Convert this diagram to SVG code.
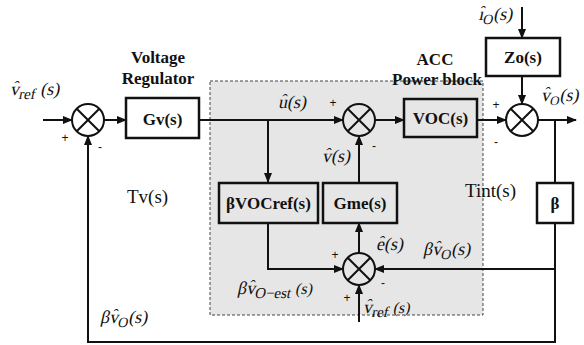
<svg xmlns="http://www.w3.org/2000/svg" width="584" height="345" viewBox="0 0 584 345">
<defs>
<marker id="arr" markerWidth="10" markerHeight="8" refX="9" refY="4" orient="auto" markerUnits="userSpaceOnUse">
<path d="M0,0 L10,4 L0,8 z" fill="#111"/>
</marker>
<style>
.ln{stroke:#111;stroke-width:2;fill:none}
.bx{stroke:#111;stroke-width:2.5;fill:none}
.bxw{stroke:#111;stroke-width:2.5;fill:#fff}
.bt{font-family:"Liberation Serif",serif;font-weight:bold;font-size:17px;fill:#111;text-anchor:middle}
.lt{font-family:"Liberation Serif",serif;font-size:19px;fill:#111}
.it{font-family:"Liberation Serif",serif;font-size:18px;fill:#111}
.h{font-size:16px}
.sg{font-family:"Liberation Sans",sans-serif;font-size:12px;fill:#111;text-anchor:middle}
</style>
</defs>
<rect width="584" height="345" fill="#fff"/>
<rect x="210" y="81" width="273" height="234" fill="#e6e6e6" stroke="#444" stroke-width="1" stroke-dasharray="3,2"/>

<g id="connectors">
<line class="ln" x1="43" y1="120" x2="72" y2="120" marker-end="url(#arr)"/>
<line class="ln" x1="104" y1="120" x2="126" y2="120" marker-end="url(#arr)"/>
<line class="ln" x1="199" y1="120" x2="343" y2="120" marker-end="url(#arr)"/>
<line class="ln" x1="268" y1="120" x2="268" y2="182" marker-end="url(#arr)"/>
<line class="ln" x1="375" y1="120" x2="404" y2="120" marker-end="url(#arr)"/>
<line class="ln" x1="477" y1="120" x2="506" y2="120" marker-end="url(#arr)"/>
<line class="ln" x1="538" y1="120" x2="576" y2="120" marker-end="url(#arr)"/>
<line class="ln" x1="522" y1="7" x2="522" y2="38" marker-end="url(#arr)"/>
<line class="ln" x1="522" y1="76" x2="522" y2="104" marker-end="url(#arr)"/>
<line class="ln" x1="555" y1="120" x2="555" y2="183"/>
<polyline class="ln" points="555,223 555,342 88,342 88,136" marker-end="url(#arr)"/>
<line class="ln" x1="555" y1="269" x2="375" y2="269" marker-end="url(#arr)"/>
<line class="ln" x1="359" y1="183" x2="359" y2="136" marker-end="url(#arr)"/>
<polyline class="ln" points="268,223 268,269 343,269" marker-end="url(#arr)"/>
<line class="ln" x1="359" y1="253" x2="359" y2="223" marker-end="url(#arr)"/>
<line class="ln" x1="359" y1="322" x2="359" y2="285" marker-end="url(#arr)"/>
</g>

<g id="sum1">
<circle class="ln" cx="88" cy="120" r="16" fill="#fff"/>
<path class="ln" d="M76.7,108.7 L99.3,131.3 M99.3,108.7 L76.7,131.3"/>
</g>
<g id="sum2">
<circle class="ln" cx="359" cy="120" r="16" fill="#e6e6e6"/>
<path class="ln" d="M347.7,108.7 L370.3,131.3 M370.3,108.7 L347.7,131.3"/>
</g>
<g id="sum3">
<circle class="ln" cx="359" cy="269" r="16" fill="#e6e6e6"/>
<path class="ln" d="M347.7,257.7 L370.3,280.3 M370.3,257.7 L347.7,280.3"/>
</g>
<g id="sum4">
<circle class="ln" cx="522" cy="120" r="16" fill="#fff"/>
<path class="ln" d="M510.7,108.7 L533.3,131.3 M533.3,108.7 L510.7,131.3"/>
</g>

<g id="Gv">
<rect class="bxw" x="126" y="98" width="73" height="40"/>
<text class="bt" x="162.5" y="125" font-size="18">Gv(s)</text>
</g>
<g id="VOC">
<rect class="bx" x="404" y="99" width="73" height="38"/>
<text class="bt" x="440.5" y="124">VOC(s)</text>
</g>
<g id="Zo">
<rect class="bxw" x="486" y="38" width="74" height="38"/>
<text class="bt" x="523" y="63">Zo(s)</text>
</g>
<g id="beta">
<rect class="bxw" x="537" y="183" width="36" height="40"/>
<text class="bt" x="555" y="209">β</text>
</g>
<g id="Gme">
<rect class="bx" x="323" y="183" width="74" height="40"/>
<text class="bt" x="360" y="209">Gme(s)</text>
</g>
<g id="BVOCref">
<rect class="bx" x="219" y="183" width="99" height="40"/>
<text class="bt" x="268.5" y="209">βVOCref(s)</text>
</g>

<g id="labels">
<text class="bt" x="158" y="63">Voltage</text>
<text class="bt" x="158" y="84">Regulator</text>
<text class="bt" x="435" y="65">ACC</text>
<text class="bt" x="437" y="85">Power block</text>
<text class="lt" x="127" y="203">Tv(s)</text>
<text class="lt" x="465" y="197">Tint(s)</text>

<text class="it" transform="translate(10,95) skewX(-12)">v<tspan class="h" dx="-7.2" dy="-3">ˆ</tspan><tspan dx="1.9" dy="7" font-size="15">ref</tspan><tspan dy="-4"> (s)</tspan></text>
<text class="it" transform="translate(278,108) skewX(-12)">u<tspan class="h" dx="-7.2" dy="-3">ˆ</tspan><tspan dx="1.9" dy="3">(s)</tspan></text>
<text class="it" transform="translate(322,162) skewX(-12)">v<tspan class="h" dx="-7.2" dy="-3">ˆ</tspan><tspan dx="1.9" dy="3">(s)</tspan></text>
<text class="it" transform="translate(376,250) skewX(-12)">e<tspan class="h" dx="-6.7" dy="-3">ˆ</tspan><tspan dx="1.4" dy="3">(s)</tspan></text>
<text class="it" transform="translate(478,20) skewX(-12)">ı<tspan class="h" dx="-5.2" dy="-3">ˆ</tspan><tspan dx="-0.1" dy="7" font-size="14">O</tspan><tspan dy="-4">(s)</tspan></text>
<text class="it" transform="translate(541,101) skewX(-12)" font-size="17">v<tspan class="h" dx="-7" dy="-3">ˆ</tspan><tspan dx="1.7" dy="7" font-size="13">O</tspan><tspan dy="-4">(s)</tspan></text>
<text class="it" transform="translate(423,255) skewX(-12)">β<tspan>v</tspan><tspan class="h" dx="-7.2" dy="-3">ˆ</tspan><tspan dx="1.9" dy="7" font-size="14">O</tspan><tspan dy="-4">(s)</tspan></text>
<text class="it" transform="translate(100,323) skewX(-12)">β<tspan>v</tspan><tspan class="h" dx="-7.2" dy="-3">ˆ</tspan><tspan dx="1.9" dy="7" font-size="14">O</tspan><tspan dy="-4">(s)</tspan></text>
<text class="it" transform="translate(237,294) skewX(-12)">β<tspan>v</tspan><tspan class="h" dx="-7.2" dy="-3">ˆ</tspan><tspan dx="1.9" dy="7" font-size="15">O−est</tspan><tspan dy="-4" font-size="16"> (s)</tspan></text>
<text class="it" transform="translate(363,313) skewX(-12)">v<tspan class="h" dx="-7.2" dy="-3">ˆ</tspan><tspan dx="1.9" dy="7" font-size="15">ref</tspan><tspan dy="-4" font-size="16"> (s)</tspan></text>

<text class="sg" x="65" y="142">+</text>
<text class="sg" x="100" y="151">-</text>
<text class="sg" x="333" y="107">+</text>
<text class="sg" x="374" y="150">-</text>
<text class="sg" x="496" y="109">+</text>
<text class="sg" x="496" y="146">-</text>
<text class="sg" x="335" y="259">+</text>
<text class="sg" x="347" y="302">+</text>
<text class="sg" x="383" y="287">-</text>
</g>
</svg>
